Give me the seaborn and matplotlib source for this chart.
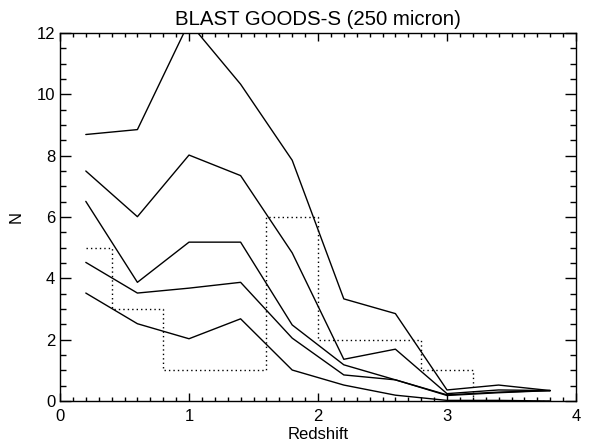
import numpy as np
import pandas as pd
import matplotlib
matplotlib.use("Agg")
import matplotlib.pyplot as plt
from matplotlib.ticker import MultipleLocator
import seaborn as sns

sns.set_style("ticks")
plt.rcParams['font.family'] = ['Liberation Sans', 'DejaVu Sans']
plt.rcParams.update({"text.color": "black", "axes.labelcolor": "black",
                     "xtick.color": "black", "ytick.color": "black",
                     "axes.edgecolor": "black"})

redshift = [0.2, 0.6, 1.0, 1.4, 1.8, 2.2, 2.6, 3.0, 3.4, 3.8]
curve1 = [8.69, 8.85, 12.35, 10.33, 7.85, 3.33, 2.85, 0.36, 0.52, 0.34]
curve2 = [7.50, 6.01, 8.02, 7.35, 4.83, 1.36, 1.69, 0.24, 0.36, 0.34]
curve3 = [6.51, 3.87, 5.18, 5.18, 2.48, 1.18, 0.69, 0.20, 0.29, 0.34]
curve4 = [4.52, 3.52, 3.68, 3.87, 2.05, 0.85, 0.69, 0.18, 0.27, 0.34]
curve5 = [3.52, 2.52, 2.03, 2.68, 1.01, 0.52, 0.19, 0.02, 0.02, 0.0]
hist_counts = [5, 3, 1, 1, 6, 2, 2, 1, 0, 0]

title = "BLAST GOODS-S (250 micron)"
xlabel = "Redshift"
ylabel = "N"

fig = plt.figure(figsize=(5.89, 4.45), dpi=100)
ax = fig.add_axes([60/589, (445-401)/445, (576-60)/589, (401-33)/445])

for c in [curve1, curve2, curve3, curve4, curve5]:
    df = pd.DataFrame({"z": redshift, "n": c})
    sns.lineplot(data=df, x="z", y="n", ax=ax, color="black", linewidth=1.0,
                 sort=False, estimator=None)

dfh = pd.DataFrame({"z": redshift, "n": hist_counts})
sns.lineplot(data=dfh, x="z", y="n", ax=ax, color="black", linewidth=1.0,
             drawstyle="steps-mid", linestyle=(0, (1, 2.2)), estimator=None, sort=False)

ax.set_xlim(0, 4)
ax.set_ylim(0, 12)
ax.xaxis.set_major_locator(MultipleLocator(1))
ax.xaxis.set_minor_locator(MultipleLocator(0.1))
ax.yaxis.set_major_locator(MultipleLocator(2))
ax.yaxis.set_minor_locator(MultipleLocator(0.5))
ax.tick_params(which="both", direction="in", top=True, right=True,
               color="black", labelcolor="black", width=1.0, labelsize=12)
ax.tick_params(axis="x", which="major", length=6, pad=6)
ax.tick_params(axis="x", which="minor", length=3)
ax.tick_params(axis="y", which="major", length=8, pad=3.5)
ax.tick_params(axis="y", which="minor", length=4)
for s in ax.spines.values():
    s.set_linewidth(1.0)
    s.set_color("black")

ax.set_title(title, fontsize=14.7, pad=6, color="black")
ax.set_xlabel(xlabel, fontsize=12, labelpad=2, color="black")
ax.set_ylabel(ylabel, fontsize=12, labelpad=9, color="black")

fig.savefig("out.png", dpi=100)
